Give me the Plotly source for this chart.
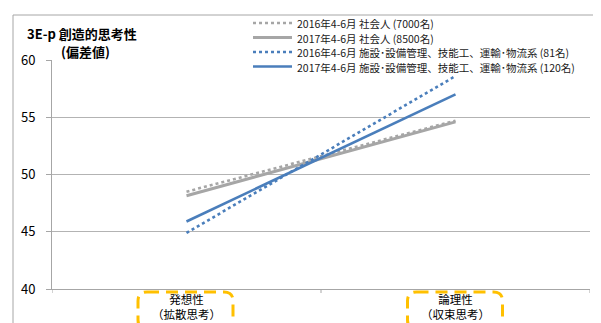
import plotly.graph_objects as go

categories = ["発想性<br>（拡散思考）", "論理性<br>（収束思考）"]
series_names = [
    "2016年4-6月 社会人 (7000名)",
    "2017年4-6月 社会人 (8500名)",
    "2016年4-6月 施設･設備管理、技能工、運輸･物流系 (81名)",
    "2017年4-6月 施設･設備管理、技能工、運輸･物流系 (120名)",
]
values_2016_all = [48.5, 54.7]
values_2017_all = [48.15, 54.6]
values_2016_grp = [44.9, 58.6]
values_2017_grp = [45.9, 57.0]
y_ticks = [40, 45, 50, 55, 60]

series_values = [values_2016_all, values_2017_all, values_2016_grp, values_2017_grp]
colors = ["#A6A6A6", "#A6A6A6", "#4A7EBB", "#4A7EBB"]
dashes = ["dot", "solid", "dot", "solid"]
widths = [2.6, 3, 2.6, 2.6]

W, H = 601, 323
L, R, T, B = 44, 19, 52, 42
PW, PH = W - L - R, H - T - B

def px(x):
    return (x - L) / PW

def py(y):
    return (H - B - y) / PH

FONT = "Noto Sans CJK JP"
LEG_FS = 10.5
LEG_STEP = 14.5
LEG_TOP = 15

fig = go.Figure()
for name, vals, c, d, w in zip(series_names, series_values, colors, dashes, widths):
    fig.add_trace(go.Scatter(
        x=[0, 1], y=vals, mode="lines", name=name, showlegend=False,
        line=dict(color=c, dash=d, width=w),
    ))

shapes = []
annotations = []

# outer frame
shapes.append(dict(type="rect", xref="paper", yref="paper",
                   x0=px(5), x1=px(640), y0=py(7), y1=py(360),
                   line=dict(color="#A6A6A6", width=1), layer="below"))

# manual legend
for i, (name, c, d, w) in enumerate(zip(series_names, colors, dashes, widths)):
    yy = LEG_TOP + i * LEG_STEP
    shapes.append(dict(type="line", xref="paper", yref="paper",
                       x0=px(245), x1=px(284), y0=py(yy), y1=py(yy),
                       line=dict(color=c, dash=d, width=w)))
    annotations.append(dict(text=name, xref="paper", yref="paper",
                            x=px(288), y=py(yy), xanchor="left", yanchor="middle",
                            height=14, valign="middle", borderpad=0,
                            showarrow=False,
                            font=dict(size=LEG_FS, color="#1a1a1a", family=FONT)))

# title
annotations.append(dict(text="<b>3E-p 創造的思考性</b>", xref="paper", yref="paper",
                        x=px(17), y=py(26), xanchor="left", yanchor="middle",
                        showarrow=False, font=dict(size=13, color="#000", family=FONT)))
annotations.append(dict(text="<b>(偏差値)</b>", xref="paper", yref="paper",
                        x=px(51), y=py(44), xanchor="left", yanchor="middle",
                        showarrow=False, font=dict(size=13, color="#000", family=FONT)))

# dashed rounded boxes around category labels
def rounded_path(x0, x1, y0, y1, r):
    X0, X1 = px(x0), px(x1)
    Y0, Y1 = py(y0), py(y1)  # y0 top (px), y1 bottom
    rx, ry = r / PW, r / PH
    return (f"M {X0+rx},{Y0} L {X1-rx},{Y0} Q {X1},{Y0} {X1},{Y0-ry} "
            f"L {X1},{Y1+ry} Q {X1},{Y1} {X1-rx},{Y1} L {X0+rx},{Y1} "
            f"Q {X0},{Y1} {X0},{Y1+ry} L {X0},{Y0-ry} Q {X0},{Y0} {X0+rx},{Y0} Z")

for cx in [177.5, 447]:
    shapes.append(dict(type="path", xref="paper", yref="paper",
                       path=rounded_path(cx - 47.5, cx + 47.5, 284, 321, 9),
                       line=dict(color="#FFC000", width=3, dash="12px,7px")))

# x-axis boundary tick marks (between categories)
for xv in [-0.5, 0.5, 1.5]:
    shapes.append(dict(type="line", xref="x", yref="paper", x0=xv, x1=xv,
                       y0=0, y1=py(H - B + 4), line=dict(color="#A6A6A6", width=1)))

fig.update_layout(
    width=W, height=H,
    margin=dict(l=L, r=R, t=T, b=B, autoexpand=False),
    paper_bgcolor="white", plot_bgcolor="white",
    font=dict(family=FONT, size=12, color="#000"),
    shapes=shapes, annotations=annotations,
    xaxis=dict(
        type="linear", range=[-0.5, 1.5],
        tickmode="array", tickvals=[0, 1], ticktext=categories,
        showgrid=False, zeroline=False,
        showline=True, linecolor="#A6A6A6", linewidth=1,
        ticks="", tickfont=dict(size=11.5, color="#000", family=FONT),
        automargin=False,
    ),
    yaxis=dict(
        range=[40, 60], tickvals=y_ticks,
        showgrid=True, gridcolor="#B3B3B3", gridwidth=1,
        zeroline=False, showline=True, linecolor="#A6A6A6", linewidth=1,
        ticks="outside", ticklen=5, tickcolor="#A6A6A6",
        ticklabelstandoff=8, automargin=False,
        tickfont=dict(size=13, color="#000", family=FONT),
    ),
)

fig.write_html("out.html")
